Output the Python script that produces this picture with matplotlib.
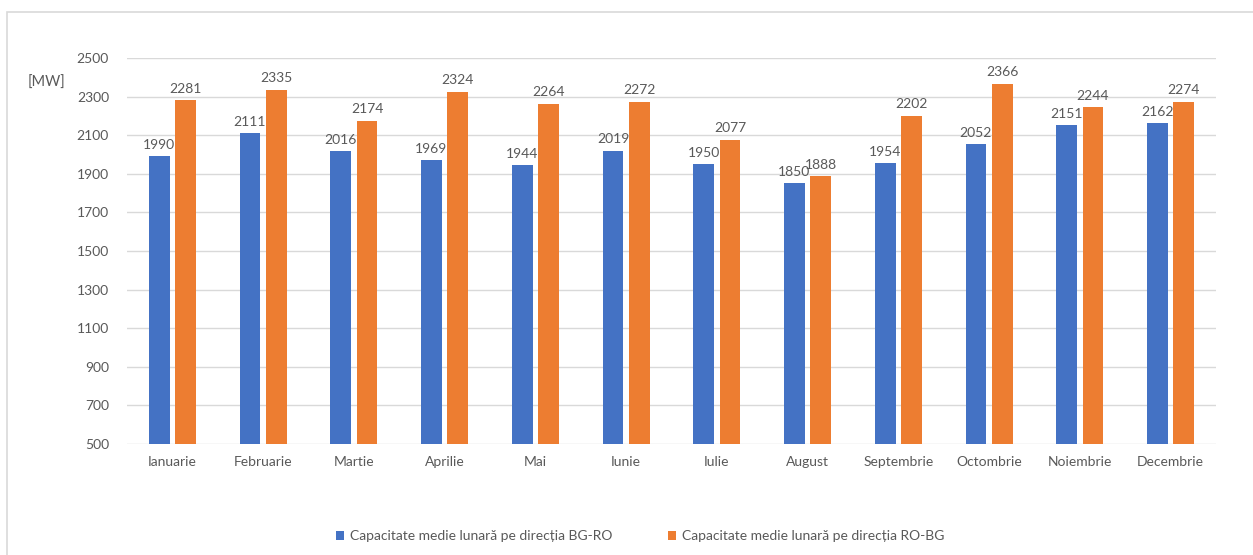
import numpy as np
import matplotlib.pyplot as plt
from matplotlib.patches import Rectangle

plt.rcParams['font.family'] = ['Lato', 'DejaVu Sans']

months = ['Ianuarie', 'Februarie', 'Martie', 'Aprilie', 'Mai', 'Iunie',
          'Iulie', 'August', 'Septembrie', 'Octombrie', 'Noiembrie', 'Decembrie']
bg_ro = [1990, 2111, 2016, 1969, 1944, 2019, 1950, 1850, 1954, 2052, 2151, 2162]
ro_bg = [2281, 2335, 2174, 2324, 2264, 2272, 2077, 1888, 2202, 2366, 2244, 2274]
series_names = ['Capacitate medie lunară pe direcția BG-RO',
                'Capacitate medie lunară pe direcția RO-BG']

blue = '#4472C4'
orange = '#ED7D31'
grey = '#595959'

fig = plt.figure(figsize=(12.53, 5.55), dpi=100)
ax = fig.add_axes([127/1253, 1-444/555, (1216-127)/1253, (444-58)/555])

x = np.arange(len(months))
w = 0.23
off = 0.145
b1 = ax.bar(x - off, bg_ro, w, color=blue, label=series_names[0], zorder=3)
b2 = ax.bar(x + off, ro_bg, w, color=orange, label=series_names[1], zorder=3)

for bars in (b1, b2):
    for r in bars:
        ax.annotate(str(int(r.get_height())),
                    (r.get_x() + r.get_width()/2, r.get_height()),
                    xytext=(0, 4), textcoords='offset points',
                    ha='center', va='bottom', fontsize=10, color=grey)

ax.set_ylim(500, 2500)
ax.set_yticks(range(500, 2501, 200))
ax.set_xlim(-0.5, len(months) - 0.5)
ax.set_xticks(x)
ax.set_xticklabels(months)
ax.tick_params(axis='both', length=0, labelsize=10, labelcolor=grey)
ax.tick_params(axis='y', pad=13)
ax.tick_params(axis='x', pad=9)
ax.grid(axis='y', color='#D9D9D9', linewidth=1, zorder=0)
for s in ax.spines.values():
    s.set_visible(False)

fig.text(28/1253, 1-83/555, '[MW]', fontsize=10.5, color=grey, va='center')

leg = fig.legend(loc='center', bbox_to_anchor=(640/1253, 1-536/555), ncol=2,
                 frameon=False, fontsize=10, handlelength=0.6, handleheight=0.6,
                 columnspacing=4, handletextpad=0.4)
for t in leg.get_texts():
    t.set_color(grey)

fig.patches.append(Rectangle((7/1253, -0.1), 1.2, 1-12/555+0.1,
                             transform=fig.transFigure, fill=False,
                             edgecolor='#D9D9D9', linewidth=1.2))

fig.savefig('out.png', dpi=100)
